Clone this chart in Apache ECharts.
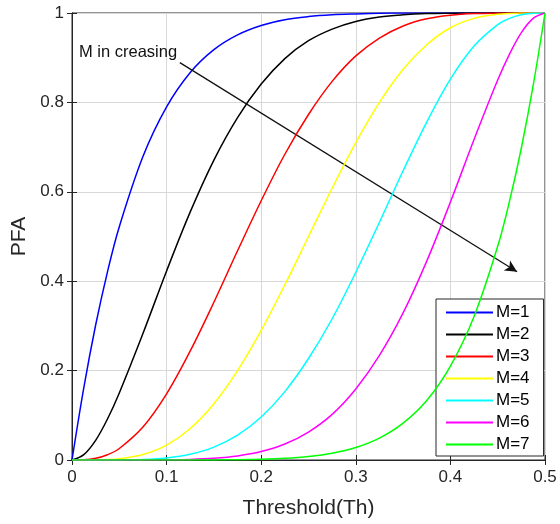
<!DOCTYPE html>
<html>
<head>
<meta charset="utf-8">
<script src="https://cdn.jsdelivr.net/npm/echarts@6/dist/echarts.min.js"></script>
<style>
  html, body { margin: 0; padding: 0; background: #fff; }
  #main { width: 560px; height: 524px; }
</style>
</head>
<body>
<div id="main"></div>
<script>
// Threshold values (x)
const th = [0, 0.0125, 0.025, 0.0375, 0.05, 0.075, 0.1, 0.125, 0.15, 0.175, 0.2, 0.225, 0.25,
  0.275, 0.3, 0.325, 0.35, 0.375, 0.4, 0.425, 0.45, 0.4625, 0.475, 0.4875, 0.5];

// PFA curves
const pfaM1 = [0, 0.162, 0.302, 0.421, 0.522, 0.679, 0.790, 0.867, 0.918, 0.951, 0.972, 0.985, 0.992,
  0.996, 0.998, 0.9994, 0.9998, 0.9999, 1, 1, 1, 1, 1, 1, 1];
const pfaM2 = [0, 0.0121, 0.044, 0.0917, 0.150, 0.283, 0.423, 0.555, 0.671, 0.766, 0.841, 0.898, 0.938,
  0.964, 0.981, 0.991, 0.996, 0.9987, 0.9996, 0.9999, 1, 1, 1, 1, 1];
const pfaM3 = [0, 0.0005, 0.0038, 0.0118, 0.0257, 0.0738, 0.148, 0.244, 0.353, 0.468, 0.580, 0.684, 0.773,
  0.847, 0.904, 0.944, 0.971, 0.987, 0.995, 0.9988, 0.9998, 0.9999, 1, 1, 1];
const pfaM4 = [0, 0, 0.0002, 0.0009, 0.0027, 0.0121, 0.0333, 0.0706, 0.126, 0.200, 0.290, 0.392, 0.500,
  0.608, 0.710, 0.800, 0.874, 0.929, 0.967, 0.988, 0.997, 0.9991, 0.9998, 1, 1];
const pfaM5 = [0, 0, 0, 0.0001, 0.0002, 0.0012, 0.0047, 0.0129, 0.0288, 0.0556, 0.0963, 0.153, 0.227,
  0.316, 0.420, 0.532, 0.647, 0.756, 0.852, 0.926, 0.974, 0.988, 0.996, 0.9995, 1];
const pfaM6 = [0, 0, 0, 0, 0, 0.0001, 0.0004, 0.0013, 0.0038, 0.0090, 0.0188, 0.0357, 0.0625,
  0.102, 0.159, 0.234, 0.329, 0.445, 0.577, 0.717, 0.850, 0.908, 0.956, 0.988, 1];
const pfaM7 = [0, 0, 0, 0, 0, 0, 0, 0.0001, 0.0002, 0.0006, 0.0016, 0.0037, 0.0078,
  0.0152, 0.0280, 0.0490, 0.0824, 0.133, 0.210, 0.321, 0.478, 0.579, 0.698, 0.838, 1];

const seriesNames = ['M=1', 'M=2', 'M=3', 'M=4', 'M=5', 'M=6', 'M=7'];
const seriesColors = ['#0000ff', '#000000', '#ff0000', '#ffff00', '#00ffff', '#ff00ff', '#00ff00'];
const allCurves = [pfaM1, pfaM2, pfaM3, pfaM4, pfaM5, pfaM6, pfaM7];

// arrow annotation (data coords)
const arrowStart = [0.114, 0.889];
const arrowEnd = [0.4705, 0.421];
const noteText = 'M in creasing';

const fontFam = '"Liberation Sans", Arial, Helvetica, sans-serif';
const axisColor = '#262626';

const series = allCurves.map((vals, i) => ({
  name: seriesNames[i],
  type: 'line',
  xAxisIndex: 0,
  yAxisIndex: 0,
  data: th.map((x, j) => [x, vals[j]]),
  smooth: 0.35,
  symbol: 'none',
  color: seriesColors[i],
  lineStyle: { width: 1.5, color: seriesColors[i] },
  z: 3 + i
}));

// arrow drawn as a markLine on the first series
series[0].markLine = {
  silent: true,
  symbol: ['none', 'arrow'],
  symbolSize: [9, 12],
  label: { show: false },
  lineStyle: { color: '#111', width: 1.3, type: 'solid' },
  data: [[{ coord: arrowStart }, { coord: arrowEnd }]]
};

const chart = echarts.init(document.getElementById('main'));
chart.setOption({
  animation: false,
  backgroundColor: '#fff',
  grid: {
    left: 72, top: 13, right: 15, bottom: 63,
    show: true, borderColor: axisColor, borderWidth: 1, backgroundColor: '#fff'
  },
  legend: {
    orient: 'vertical',
    left: 436,
    top: 299,
    data: seriesNames,
    itemWidth: 47,
    itemHeight: 14,
    itemGap: 5,
    padding: [5, 14, 3, 9],
    backgroundColor: '#fff',
    borderColor: axisColor,
    borderWidth: 1,
    itemStyle: { opacity: 0 },
    textStyle: { fontSize: 17, color: '#000', fontFamily: fontFam, padding: [0, 0, 0, -2] },
    selectedMode: false
  },
  graphic: [{
    type: 'text',
    left: 79,
    top: 44,
    z: 100,
    style: { text: noteText, fontSize: 16.5, fontFamily: fontFam, fill: '#111' }
  }],
  xAxis: [{
    type: 'value',
    min: 0, max: 0.5, interval: 0.1,
    name: 'Threshold(Th)',
    nameLocation: 'middle',
    nameGap: 38,
    nameTextStyle: { fontSize: 21, color: axisColor, fontFamily: fontFam },
    axisLine: { show: true, lineStyle: { color: axisColor, width: 1 } },
    axisTick: { show: true, inside: true, length: 5, lineStyle: { color: axisColor } },
    axisLabel: { fontSize: 17, color: axisColor, fontFamily: fontFam, margin: 9 },
    splitLine: { show: true, lineStyle: { color: '#d8d8d8', width: 1 } }
  }, {
    type: 'value',
    position: 'top',
    min: 0, max: 0.5, interval: 0.1,
    axisLine: { show: true, lineStyle: { color: axisColor } },
    axisTick: { show: true, inside: true, length: 5, lineStyle: { color: axisColor } },
    axisLabel: { show: false },
    splitLine: { show: false }
  }],
  yAxis: [{
    type: 'value',
    min: 0, max: 1, interval: 0.2,
    name: 'PFA',
    nameLocation: 'middle',
    nameGap: 40,
    nameTextStyle: { fontSize: 21, color: axisColor, fontFamily: fontFam },
    axisLine: { show: true, lineStyle: { color: axisColor, width: 1 } },
    axisTick: { show: true, inside: true, length: 5, lineStyle: { color: axisColor } },
    axisLabel: { fontSize: 17, color: axisColor, fontFamily: fontFam, margin: 8 },
    splitLine: { show: true, lineStyle: { color: '#d8d8d8', width: 1 } }
  }, {
    type: 'value',
    position: 'right',
    min: 0, max: 1, interval: 0.2,
    axisLine: { show: true, lineStyle: { color: axisColor } },
    axisTick: { show: true, inside: true, length: 5, lineStyle: { color: axisColor } },
    axisLabel: { show: false },
    splitLine: { show: false }
  }],
  series: series
});
</script>
</body>
</html>
